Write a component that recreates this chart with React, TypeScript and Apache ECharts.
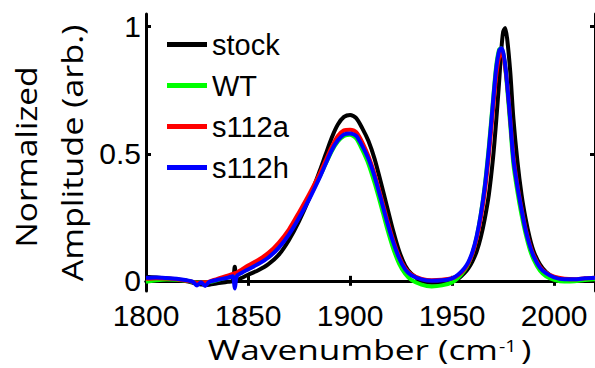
import React, { useEffect, useRef } from "react";
import * as echarts from "echarts";

const wavenumber = [
  1800, 1805, 1810, 1815, 1820, 1823, 1825, 1827, 1829, 1831, 1835, 1840, 1842.5, 1843.5, 1844.5, 1847,
  1850, 1855, 1860, 1865, 1870, 1875, 1880, 1885, 1888, 1891, 1894, 1897, 1900, 1903, 1906, 1909,
  1912, 1915, 1918, 1921, 1924, 1927, 1930, 1935, 1940, 1945, 1950, 1953, 1956, 1958, 1960, 1962,
  1964, 1966, 1968, 1970, 1971.5, 1973, 1974, 1975, 1976, 1977, 1978.5, 1980, 1982, 1984, 1986, 1988,
  1990, 1993, 1996, 2000, 2005, 2010, 2015, 2020,
];

const stock = [
  0.016, 0.013, 0.009, 0.005, -0.002, -0.008, -0.012, -0.014, -0.016, -0.015, -0.01, -0.004, 0.0, 0.055, 0.002, 0.012,
  0.024, 0.042, 0.066, 0.102, 0.16, 0.235, 0.325, 0.43, 0.497, 0.563, 0.615, 0.645, 0.653, 0.64, 0.6, 0.55,
  0.48, 0.39, 0.295, 0.2, 0.118, 0.06, 0.028, 0.0, -0.008, -0.006, -0.002, 0.008, 0.03, 0.05, 0.078, 0.115,
  0.17, 0.245, 0.34, 0.48, 0.62, 0.78, 0.9, 0.98, 0.995, 0.95, 0.82, 0.64, 0.47, 0.34, 0.245, 0.17,
  0.115, 0.065, 0.035, 0.012, 0.003, 0.0, 0.004, 0.008,
];

const wt = [
  -0.004, 0.002, 0.005, 0.004, 0.0, -0.004, -0.007, -0.006, -0.006, -0.005, 0.003, 0.014, 0.02, 0.022, 0.024, 0.034,
  0.048, 0.07, 0.097, 0.136, 0.19, 0.255, 0.328, 0.408, 0.46, 0.51, 0.548, 0.57, 0.575, 0.56, 0.515, 0.46,
  0.385, 0.3, 0.21, 0.13, 0.068, 0.028, 0.004, -0.015, -0.022, -0.018, -0.006, 0.012, 0.04, 0.068, 0.11, 0.172,
  0.26, 0.375, 0.53, 0.71, 0.84, 0.91, 0.915, 0.895, 0.84, 0.755, 0.61, 0.46, 0.35, 0.26, 0.185, 0.125,
  0.082, 0.04, 0.018, 0.004, -0.003, -0.002, 0.003, 0.006,
];

const s112a = [
  0.008, 0.01, 0.009, 0.006, 0.0, -0.004, -0.008, -0.006, -0.006, -0.003, 0.008, 0.02, 0.027, 0.03, 0.032, 0.045,
  0.06, 0.082, 0.11, 0.15, 0.202, 0.27, 0.342, 0.42, 0.474, 0.527, 0.57, 0.592, 0.595, 0.585, 0.545, 0.49,
  0.42, 0.335, 0.245, 0.163, 0.096, 0.05, 0.025, 0.008, 0.002, 0.004, 0.01, 0.022, 0.045, 0.07, 0.108, 0.165,
  0.245, 0.35, 0.495, 0.67, 0.8, 0.88, 0.895, 0.885, 0.84, 0.77, 0.635, 0.49, 0.375, 0.285, 0.205, 0.145,
  0.1, 0.056, 0.032, 0.016, 0.008, 0.006, 0.01, 0.012,
];

const s112h = [
  0.012, 0.013, 0.011, 0.008, 0.002, -0.004, -0.018, -0.006, -0.02, -0.004, 0.004, 0.012, 0.018, -0.03, 0.018, 0.032,
  0.045, 0.066, 0.092, 0.13, 0.182, 0.248, 0.322, 0.405, 0.46, 0.514, 0.553, 0.576, 0.58, 0.57, 0.53, 0.48,
  0.41, 0.325, 0.235, 0.155, 0.09, 0.045, 0.022, 0.006, 0.0, 0.002, 0.01, 0.025, 0.05, 0.075, 0.115, 0.175,
  0.26, 0.37, 0.52, 0.7, 0.83, 0.905, 0.915, 0.9, 0.85, 0.77, 0.63, 0.48, 0.37, 0.28, 0.2, 0.14,
  0.095, 0.052, 0.03, 0.014, 0.006, 0.006, 0.01, 0.012,
];

const seriesNames = ["stock", "WT", "s112a", "s112h"];
const seriesColors = ["#000000", "#00ff00", "#ff0000", "#0000ff"];
const seriesValues = [stock, wt, s112a, s112h];

const xTicks = [1800, 1850, 1900, 1950, 2000];
const yTicks = [0, 0.5, 1];

export default function App() {
  const ref = useRef<HTMLDivElement>(null);

  useEffect(() => {
    if (!ref.current) return;
    const chart = echarts.init(ref.current, null, { renderer: "svg" });

    const axisLine = { show: true, lineStyle: { color: "#000", width: 3 } };
    const tickStyle = { lineStyle: { color: "#000", width: 3 } };
    const labelFont = { fontFamily: "Liberation Sans", fontSize: 30, color: "#000" };
    const titleFont = { fontFamily: "Open Sans", fill: "#000" };

    chart.setOption({
      animation: false,
      backgroundColor: "#fff",
      grid: { left: 146, top: 14, width: 452, height: 277, containLabel: false },
      legend: {
        orient: "vertical",
        left: 167,
        top: 30,
        padding: 0,
        itemGap: 12,
        itemWidth: 40,
        itemHeight: 5,
        icon: "rect",
        data: seriesNames,
        textStyle: { fontFamily: "Liberation Sans", fontSize: 29, lineHeight: 29, color: "#000" },
      },
      xAxis: [
        {
          type: "value",
          min: 1800,
          max: 2020,
          position: "bottom",
          axisLine,
          axisTick: { show: true, inside: true, length: 5, customValues: xTicks, ...tickStyle },
          axisLabel: {
            show: true,
            margin: 9,
            customValues: xTicks,
            formatter: (v: number) => String(v),
            ...labelFont,
          },
          splitLine: { show: false },
        },
        {
          type: "value",
          min: 1800,
          max: 2020,
          position: "top",
          axisLine,
          axisTick: { show: true, inside: true, length: 5, customValues: xTicks, ...tickStyle },
          axisLabel: { show: false },
          splitLine: { show: false },
        },
      ],
      yAxis: [
        {
          type: "value",
          min: -0.04,
          max: 1.05,
          position: "left",
          axisLine,
          axisTick: { show: true, inside: true, length: 5, customValues: yTicks, ...tickStyle },
          axisLabel: {
            show: true,
            margin: 5,
            customValues: yTicks,
            formatter: (v: number) => String(v),
            ...labelFont,
          },
          splitLine: { show: false },
        },
        {
          type: "value",
          min: -0.04,
          max: 1.05,
          position: "right",
          axisLine,
          axisTick: { show: true, inside: true, length: 5, customValues: yTicks, ...tickStyle },
          axisLabel: { show: false },
          splitLine: { show: false },
        },
      ],
      series: seriesNames.map((name, k) => ({
        name,
        type: "line",
        xAxisIndex: 0,
        yAxisIndex: 0,
        showSymbol: false,
        smooth: 0.25,
        color: seriesColors[k],
        lineStyle: { width: 4, color: seriesColors[k] },
        data: wavenumber.map((x, i) => [x, seriesValues[k][i]]),
      })),
      graphic: [
        {
          type: "text",
          x: 498,
          y: 349,
          scaleX: 1.26,
          style: {
            text: "Wavenumber (cm",
            fontSize: 28,
            ...titleFont,
            textAlign: "right",
            textVerticalAlign: "middle",
          },
        },
        {
          type: "text",
          x: 499,
          y: 337,
          scaleX: 1.15,
          style: {
            text: "-1",
            fontSize: 17,
            ...titleFont,
            textAlign: "left",
            textVerticalAlign: "top",
          },
        },
        {
          type: "text",
          x: 521,
          y: 349,
          scaleX: 1.26,
          style: {
            text: ")",
            fontSize: 28,
            ...titleFont,
            textAlign: "left",
            textVerticalAlign: "middle",
          },
        },
        {
          type: "text",
          x: 25,
          y: 157,
          rotation: Math.PI / 2,
          scaleX: 1.12,
          style: {
            text: "Normalized",
            fontSize: 30,
            ...titleFont,
            textAlign: "center",
            textVerticalAlign: "middle",
          },
        },
        {
          type: "text",
          x: 71,
          y: 153,
          rotation: Math.PI / 2,
          scaleX: 1.14,
          style: {
            text: "Amplitude (arb.)",
            fontSize: 30,
            ...titleFont,
            textAlign: "center",
            textVerticalAlign: "middle",
          },
        },
      ],
    });

    return () => chart.dispose();
  }, []);

  return (
    <div
      ref={ref}
      style={{ position: "fixed", left: 0, top: 0, width: 595, height: 368, background: "#fff" }}
    />
  );
}
